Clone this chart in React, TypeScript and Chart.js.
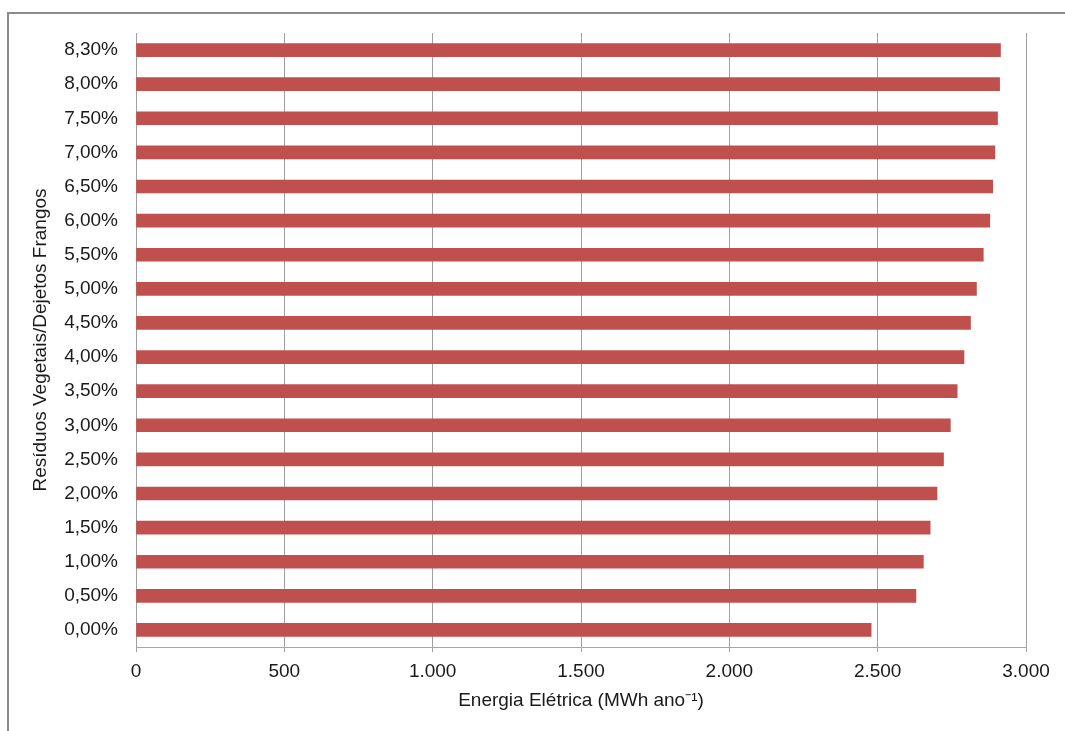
import React, { useEffect, useRef } from "react";
import { Chart, registerables } from "chart.js";

Chart.register(...registerables);

const categories: string[] = [
  "0,00%", "0,50%", "1,00%", "1,50%", "2,00%", "2,50%", "3,00%", "3,50%", "4,00%",
  "4,50%", "5,00%", "5,50%", "6,00%", "6,50%", "7,00%", "7,50%", "8,00%", "8,30%",
];

const energia: number[] = [
  2478, 2629, 2654, 2677, 2700, 2722, 2745, 2768, 2791,
  2813, 2833, 2856, 2878, 2888, 2895, 2904, 2911, 2914,
];

const xTicks: number[] = [0, 500, 1000, 1500, 2000, 2500, 3000];

const xTitle = "Energia Elétrica (MWh ano⁻¹)";
const yTitle = "Resíduos Vegetais/Dejetos Frangos";

const FONT = "'Liberation Sans', Arial, sans-serif";

function fmtThousands(v: number): string {
  const s = Math.round(v).toString();
  return s.replace(/\B(?=(\d{3})+(?!\d))/g, ".");
}

const framePlugin = {
  id: "frame",
  beforeDraw(chart: any) {
    const ctx = chart.ctx;
    ctx.save();
    ctx.fillStyle = "#ffffff";
    ctx.fillRect(0, 0, chart.width, chart.height);
    ctx.strokeStyle = "#8a8a8a";
    ctx.lineWidth = 2;
    ctx.beginPath();
    ctx.moveTo(8, chart.height);
    ctx.lineTo(8, 13);
    ctx.lineTo(chart.width, 13);
    ctx.stroke();
    ctx.restore();
  },
};

export default function App() {
  const ref = useRef<HTMLCanvasElement | null>(null);

  useEffect(() => {
    document.body.style.margin = "0";
    const canvas = ref.current;
    if (!canvas) return;
    const chart = new Chart(canvas, {
      type: "bar",
      data: {
        labels: categories,
        datasets: [
          {
            data: energia,
            backgroundColor: "#C0504D",
            borderWidth: 0,
            barThickness: 13,
          },
        ],
      },
      options: {
        indexAxis: "y",
        animation: false,
        responsive: false,
        maintainAspectRatio: false,
        layout: { padding: { top: 33, right: 39, bottom: 0, left: 0 } },
        plugins: {
          legend: { display: false },
          tooltip: { enabled: false },
        },
        scales: {
          x: {
            type: "linear",
            min: 0,
            max: 3000,
            afterBuildTicks: (scale: any) => {
              scale.ticks = xTicks.map((v) => ({ value: v }));
            },
            afterFit: (scale: any) => {
              scale.height = 84;
            },
            grid: {
              color: "#a0a0a0",
              lineWidth: 1,
              drawTicks: true,
              tickLength: 5,
            },
            border: { display: true, color: "#a6a6a6", width: 1 },
            ticks: {
              padding: 8,
              color: "#1a1a1a",
              font: { family: FONT, size: 19 },
              callback: (v: any) => fmtThousands(Number(v)),
              maxRotation: 0,
            },
            title: {
              display: true,
              text: xTitle,
              color: "#1a1a1a",
              font: { family: FONT, size: 19 },
              padding: { top: 0, bottom: 19 },
            },
          },
          y: {
            reverse: true,
            afterFit: (scale: any) => {
              scale.width = 136;
            },
            grid: { display: false, drawTicks: false },
            border: { display: true, color: "#a0a0a0", width: 1 },
            ticks: {
              padding: 18,
              color: "#1a1a1a",
              font: { family: FONT, size: 19 },
              autoSkip: false,
            },
            title: {
              display: true,
              text: yTitle,
              color: "#1a1a1a",
              font: { family: FONT, size: 19 },
              padding: { top: 29, bottom: 0 },
            },
          },
        },
      },
      plugins: [framePlugin],
    } as any);
    return () => chart.destroy();
  }, []);

  return (
    <div style={{ width: 1065, height: 731 }}>
      <canvas ref={ref} width={1065} height={731} style={{ display: "block" }} />
    </div>
  );
}
